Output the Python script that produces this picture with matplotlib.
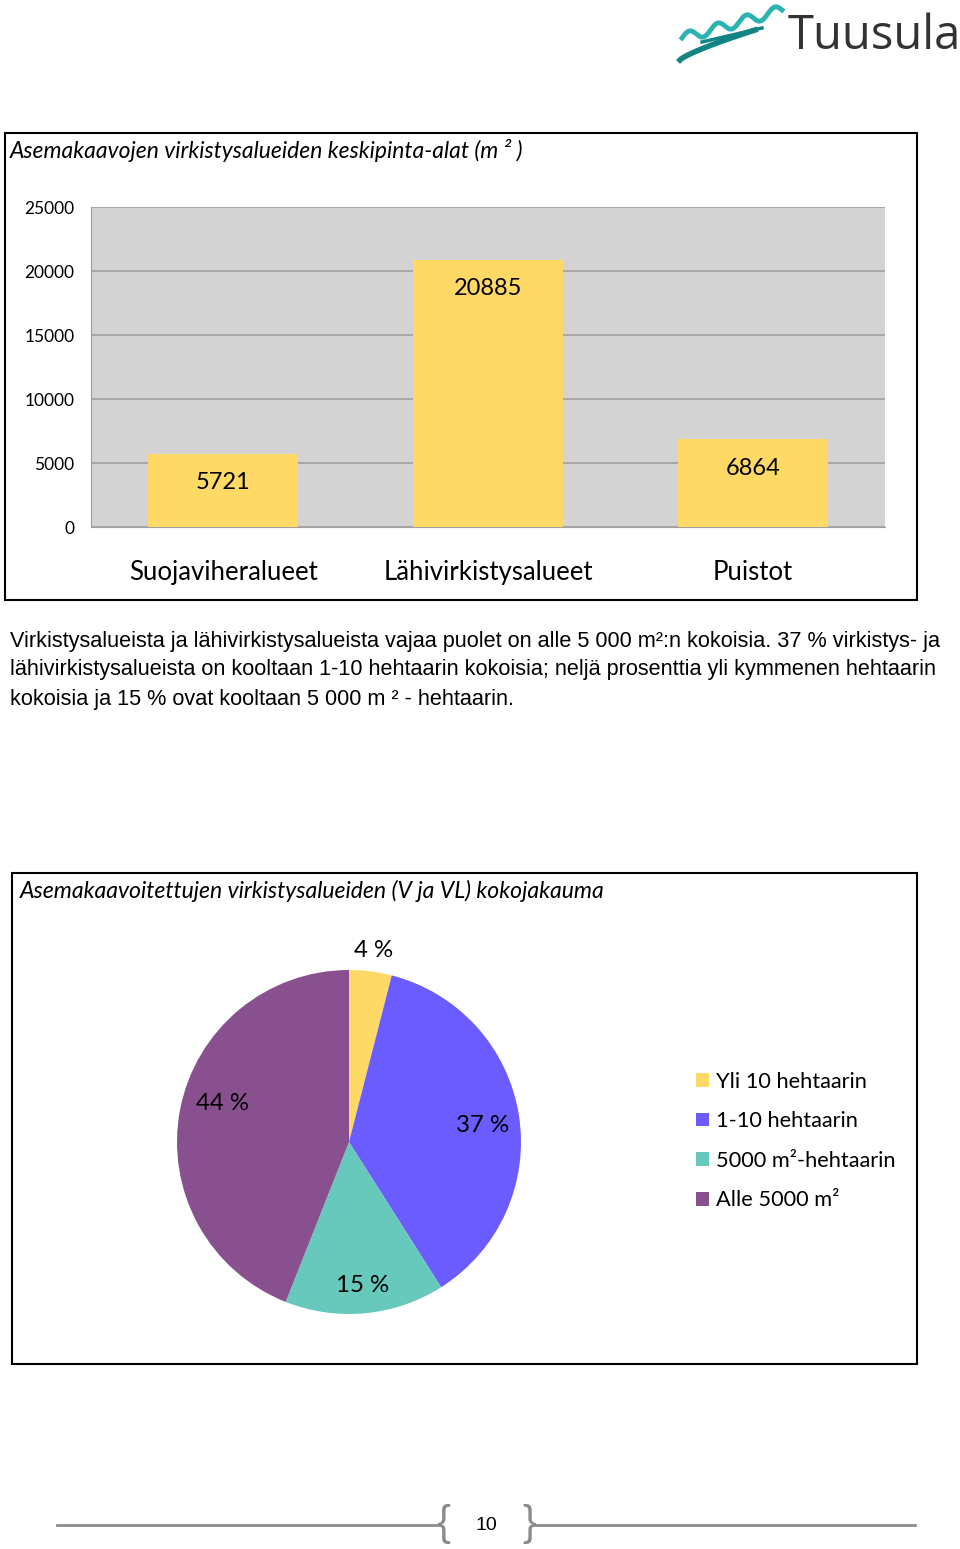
import numpy as np
import matplotlib
matplotlib.use("Agg")
import matplotlib.pyplot as plt
from matplotlib.patches import Rectangle

# Data
bar_categories = ["Suojaviheralueet", "Lähivirkistysalueet", "Puistot"]
bar_values = [5721, 20885, 6864]
bar_yticks = [0, 5000, 10000, 15000, 20000, 25000]

pie_labels = ["Yli 10 hehtaarin", "1-10 hehtaarin", "5000 m²-hehtaarin", "Alle 5000 m²"]
pie_values = [4, 37, 15, 44]
pie_colors = ["#FFD966", "#6B5CFF", "#66C9BB", "#88508F"]
pie_label_dist = [1.12, 0.78, 0.84, 0.77]
pie_label_shift = [0, -2, 0, -6]  # degrees

bar_title = "Asemakaavojen virkistysalueiden keskipinta-alat (m ² )"
pie_title = "Asemakaavoitettujen virkistysalueiden (V ja VL) kokojakauma"
paragraph = [
    "Virkistysalueista ja lähivirkistysalueista vajaa puolet on alle 5 000 m²:n kokoisia. 37 % virkistys- ja",
    "lähivirkistysalueista on kooltaan 1-10 hehtaarin kokoisia; neljä prosenttia yli kymmenen hehtaarin",
    "kokoisia ja 15 % ovat kooltaan 5 000 m ² - hehtaarin.",
]
page_number = "10"

W, H = 960, 1549
fig = plt.figure(figsize=(W / 100, H / 100), dpi=100)


def fx(x):
    return x / W


def fy(y):
    return 1 - y / H


def box(x0, y0, x1, y1):
    fig.add_artist(Rectangle((fx(x0), fy(y1)), (x1 - x0) / W, (y1 - y0) / H,
                             transform=fig.transFigure, fill=False,
                             edgecolor="black", linewidth=1.5))


# Logo
logo = fig.add_axes([fx(672), fy(66), 120 / W, 62 / H])
logo.axis("off")
logo.set_xlim(0, 120)
logo.set_ylim(0, 62)
t = np.linspace(0, 1, 200)
lx = 10 + 100 * t
ly = 20 + 28 * t + 5 * np.sin(t * 22)
logo.plot(lx, ly + 8, color="#2AB3B0", linewidth=3.5)
logo.plot(8 + 75 * t, 6 + 30 * t ** 0.8, color="#138484", linewidth=4)
logo.plot(30 + 60 * t, 24 + 14 * t, color="#138484", linewidth=2.5)
fig.text(fx(788), fy(36), "Tuusula", fontsize=34, color="#333333",
         family="Open Sans", va="center", ha="left")

# Bar chart
box(5, 133, 917, 600)
fig.text(fx(10), fy(151), bar_title, fontsize=16.5, style="italic",
         family="Lato", va="center", ha="left")

ax = fig.add_axes([fx(91), fy(527), (885 - 91) / W, (527 - 207) / H])
ax.set_facecolor("#D3D3D3")
x = np.arange(len(bar_categories))
ax.bar(x, bar_values, width=0.566, color="#FFD966", zorder=3)
ax.set_xlim(-0.5, 2.5)
ax.set_ylim(0, 25000)
ax.set_yticks(bar_yticks)
ax.set_yticklabels([str(v) for v in bar_yticks], fontsize=12.5, family="Lato")
ax.set_xticks(x)
ax.set_xticklabels(bar_categories, fontsize=18.5, family="Lato")
ax.tick_params(axis="y", length=0, pad=12)
ax.tick_params(axis="x", length=0, pad=24)
ax.grid(axis="y", color="#A0A0A0", linewidth=1.2, zorder=1)
for s in ["top", "right"]:
    ax.spines[s].set_visible(False)
ax.spines["left"].set_color("#A0A0A0")
ax.spines["bottom"].set_color("#A0A0A0")
for xi, v in zip(x, bar_values):
    ax.annotate(str(v), (xi, v), xytext=(0, -21), textcoords="offset points",
                ha="center", va="center", fontsize=17, family="Lato", zorder=4)

# Paragraph
for i, line in enumerate(paragraph):
    fig.text(fx(10), fy(641 + 29 * i), line, fontsize=15.6,
             family="Liberation Sans", va="center", ha="left")

# Pie chart
box(12, 873, 917, 1364)
fig.text(fx(20), fy(891), pie_title, fontsize=16.6, style="italic",
         family="Lato", va="center", ha="left")

pax = fig.add_axes([fx(177), fy(1314), 344 / W, 344 / H])
wedges, _ = pax.pie(pie_values, colors=pie_colors, startangle=90,
                    counterclock=False, radius=1)
pax.set_xlim(-1, 1)
pax.set_ylim(-1, 1)
pax.set_aspect("equal")
for w, val, d, sh in zip(wedges, pie_values, pie_label_dist, pie_label_shift):
    ang = np.deg2rad((w.theta1 + w.theta2) / 2 + sh)
    pax.text(d * np.cos(ang), d * np.sin(ang), f"{val} %", ha="center",
             va="center", fontsize=17.3, family="Lato", clip_on=False)

fig.legend(wedges, pie_labels, loc="center left",
           bbox_to_anchor=(fx(676), fy(1141)), frameon=False,
           prop={"family": "Lato", "size": 15.7}, handlelength=0.6,
           handleheight=0.6, handletextpad=0.35, labelspacing=0.9)

# Footer
fig.add_artist(plt.Line2D([fx(57), fx(440)], [fy(1525), fy(1525)],
                          transform=fig.transFigure, color="#8C8C8C", linewidth=2))
fig.add_artist(plt.Line2D([fx(533), fx(915)], [fy(1525), fy(1525)],
                          transform=fig.transFigure, color="#8C8C8C", linewidth=2))
fig.text(fx(443), fy(1524), "{", fontsize=30, color="#8C8C8C",
         family="Liberation Sans", ha="center", va="center")
fig.text(fx(529), fy(1524), "}", fontsize=30, color="#8C8C8C",
         family="Liberation Sans", ha="center", va="center")
fig.text(fx(486), fy(1525), page_number, fontsize=14, color="black",
         family="Liberation Sans", ha="center", va="center")

fig.savefig("out.png", dpi=100)
